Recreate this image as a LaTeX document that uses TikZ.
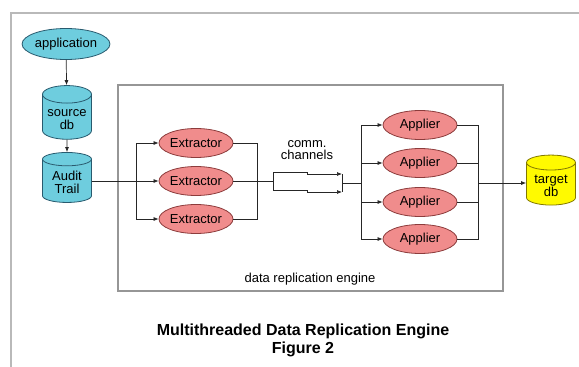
\documentclass[tikz,border=0pt]{standalone}
\usepackage{fontspec}
\setmainfont{Liberation Sans}
\usetikzlibrary{shapes.geometric,arrows.meta}
\definecolor{cyanfill}{RGB}{110,205,222}
\definecolor{cyanline}{RGB}{40,90,110}
\definecolor{pinkfill}{RGB}{240,140,140}
\definecolor{pinkline}{RGB}{140,60,60}
\definecolor{yelfill}{RGB}{255,250,0}
\definecolor{yelline}{RGB}{130,120,0}
\definecolor{framegray}{RGB}{185,185,185}
\definecolor{boxgray}{RGB}{150,150,150}
\newcommand{\dbtxt}[2]{\raisebox{-3pt}[\height][\depth]{\begin{tabular}{@{}c@{}}#1\\[-1pt]#2\end{tabular}}}
\tikzset{
  lbl/.style={font=\fontsize{13}{14}\selectfont},
  cyanell/.style={ellipse, draw=cyanline, fill=cyanfill, line width=0.8pt, inner sep=0pt, lbl},
  pinkell/.style={ellipse, draw=pinkline, fill=pinkfill, line width=0.8pt, inner sep=0pt, minimum width=74pt, minimum height=29pt, lbl},
  dbcyl/.style={cylinder, shape border rotate=90, aspect=0.45, draw=#1line, line width=0.8pt,
     cylinder uses custom fill, cylinder body fill=#1fill, cylinder end fill=#1fill,
     minimum width=49pt, minimum height=50pt, inner sep=0pt,
     font=\fontsize{13}{14}\selectfont},
  conn/.style={draw=black!85, line width=0.7pt},
  arr/.style={conn, -{Latex[length=5pt,width=4pt]}},
}
\begin{document}
\begin{tikzpicture}[x=1pt,y=-1pt]
\useasboundingbox (0,0) rectangle (579,367);
% outer frame
\draw[framegray, line width=1.2pt] (579,13) -- (11,13) -- (11,367);
% inner box
\draw[boxgray, line width=1.2pt] (118,85) rectangle (503,291);
\node[lbl] (dre) at (310,279) {data replication engine};

\node[cyanell, minimum width=85pt, minimum height=31pt] (app) at (66,44) {application};
\node[dbcyl=cyan] (src) at (67,117) {\dbtxt{source}{db}};
\node[dbcyl=cyan] (aud) at (67,181) {\dbtxt{Audit}{Trail}};

\node[pinkell] (ex1) at (196,143) {Extractor};
\node[pinkell] (ex2) at (196,181) {Extractor};
\node[pinkell] (ex3) at (196,219) {Extractor};

\node[pinkell] (ap1) at (420,125) {Applier};
\node[pinkell] (ap2) at (420,163) {Applier};
\node[pinkell] (ap3) at (420,202) {Applier};
\node[pinkell] (ap4) at (420,239) {Applier};

\node[dbcyl=yel] (tgt) at (551,184) {\dbtxt{target}{db}};

\node[lbl, align=center] (cc) at (307,150) {comm.\\[-2pt]channels};

% connectors
\draw[arr] (app) -- (src);
\draw[arr] (src) -- (aud);
\coordinate (sp) at (136,181);
\draw[arr] (aud.east |- ex2.west) -- (ex2.west);
\draw[arr] (sp) |- (ex1.west);
\draw[arr] (sp) |- (ex3.west);
\coordinate (jn) at (257,181);
\coordinate (c0) at (273,181);
\draw[conn] (ex1.east) -| (jn);
\draw[conn] (ex3.east) -| (jn);
\draw[conn] (ex2.east) -- (c0);
% comm channels
\coordinate (ct) at (273,172);
\coordinate (cb) at (273,190);
\coordinate (ctm) at (307,172);
\coordinate (cbm) at (307,190);
\coordinate (cte) at (342,174);
\coordinate (cbe) at (342,192);
\coordinate (cm) at (342,183);
\coordinate (sp2) at (361,183);
\draw[conn] (ct) -- (cb);
\draw[arr] (ct) -- (ctm) -- ++(0,2) -- (cte);
\draw[arr] (cb) -- (cbm) -- ++(0,2) -- (cbe);
\draw[conn] (cte) -- (cbe);
\draw[conn] (cm) -- (sp2);
\coordinate (sp2t) at (361,125);
\draw[conn] (sp2t |- ap1.west) -- (sp2t |- ap4.west);
\draw[arr] (sp2 |- ap1.west) -- (ap1.west);
\draw[arr] (sp2 |- ap2.west) -- (ap2.west);
\draw[arr] (sp2 |- ap3.west) -- (ap3.west);
\draw[arr] (sp2 |- ap4.west) -- (ap4.west);
\coordinate (jn2) at (478,183);
\draw[conn] (ap1.east) -| (jn2);
\draw[conn] (ap2.east) -| (jn2);
\draw[conn] (ap3.east) -| (jn2);
\draw[conn] (ap4.east) -| (jn2);
\draw[arr] (jn2) -- (tgt.west |- jn2);

\node[font=\fontsize{16}{18}\selectfont\bfseries, align=center] (title) at (303,340) {Multithreaded Data Replication Engine\\Figure 2};
\end{tikzpicture}
\end{document}
